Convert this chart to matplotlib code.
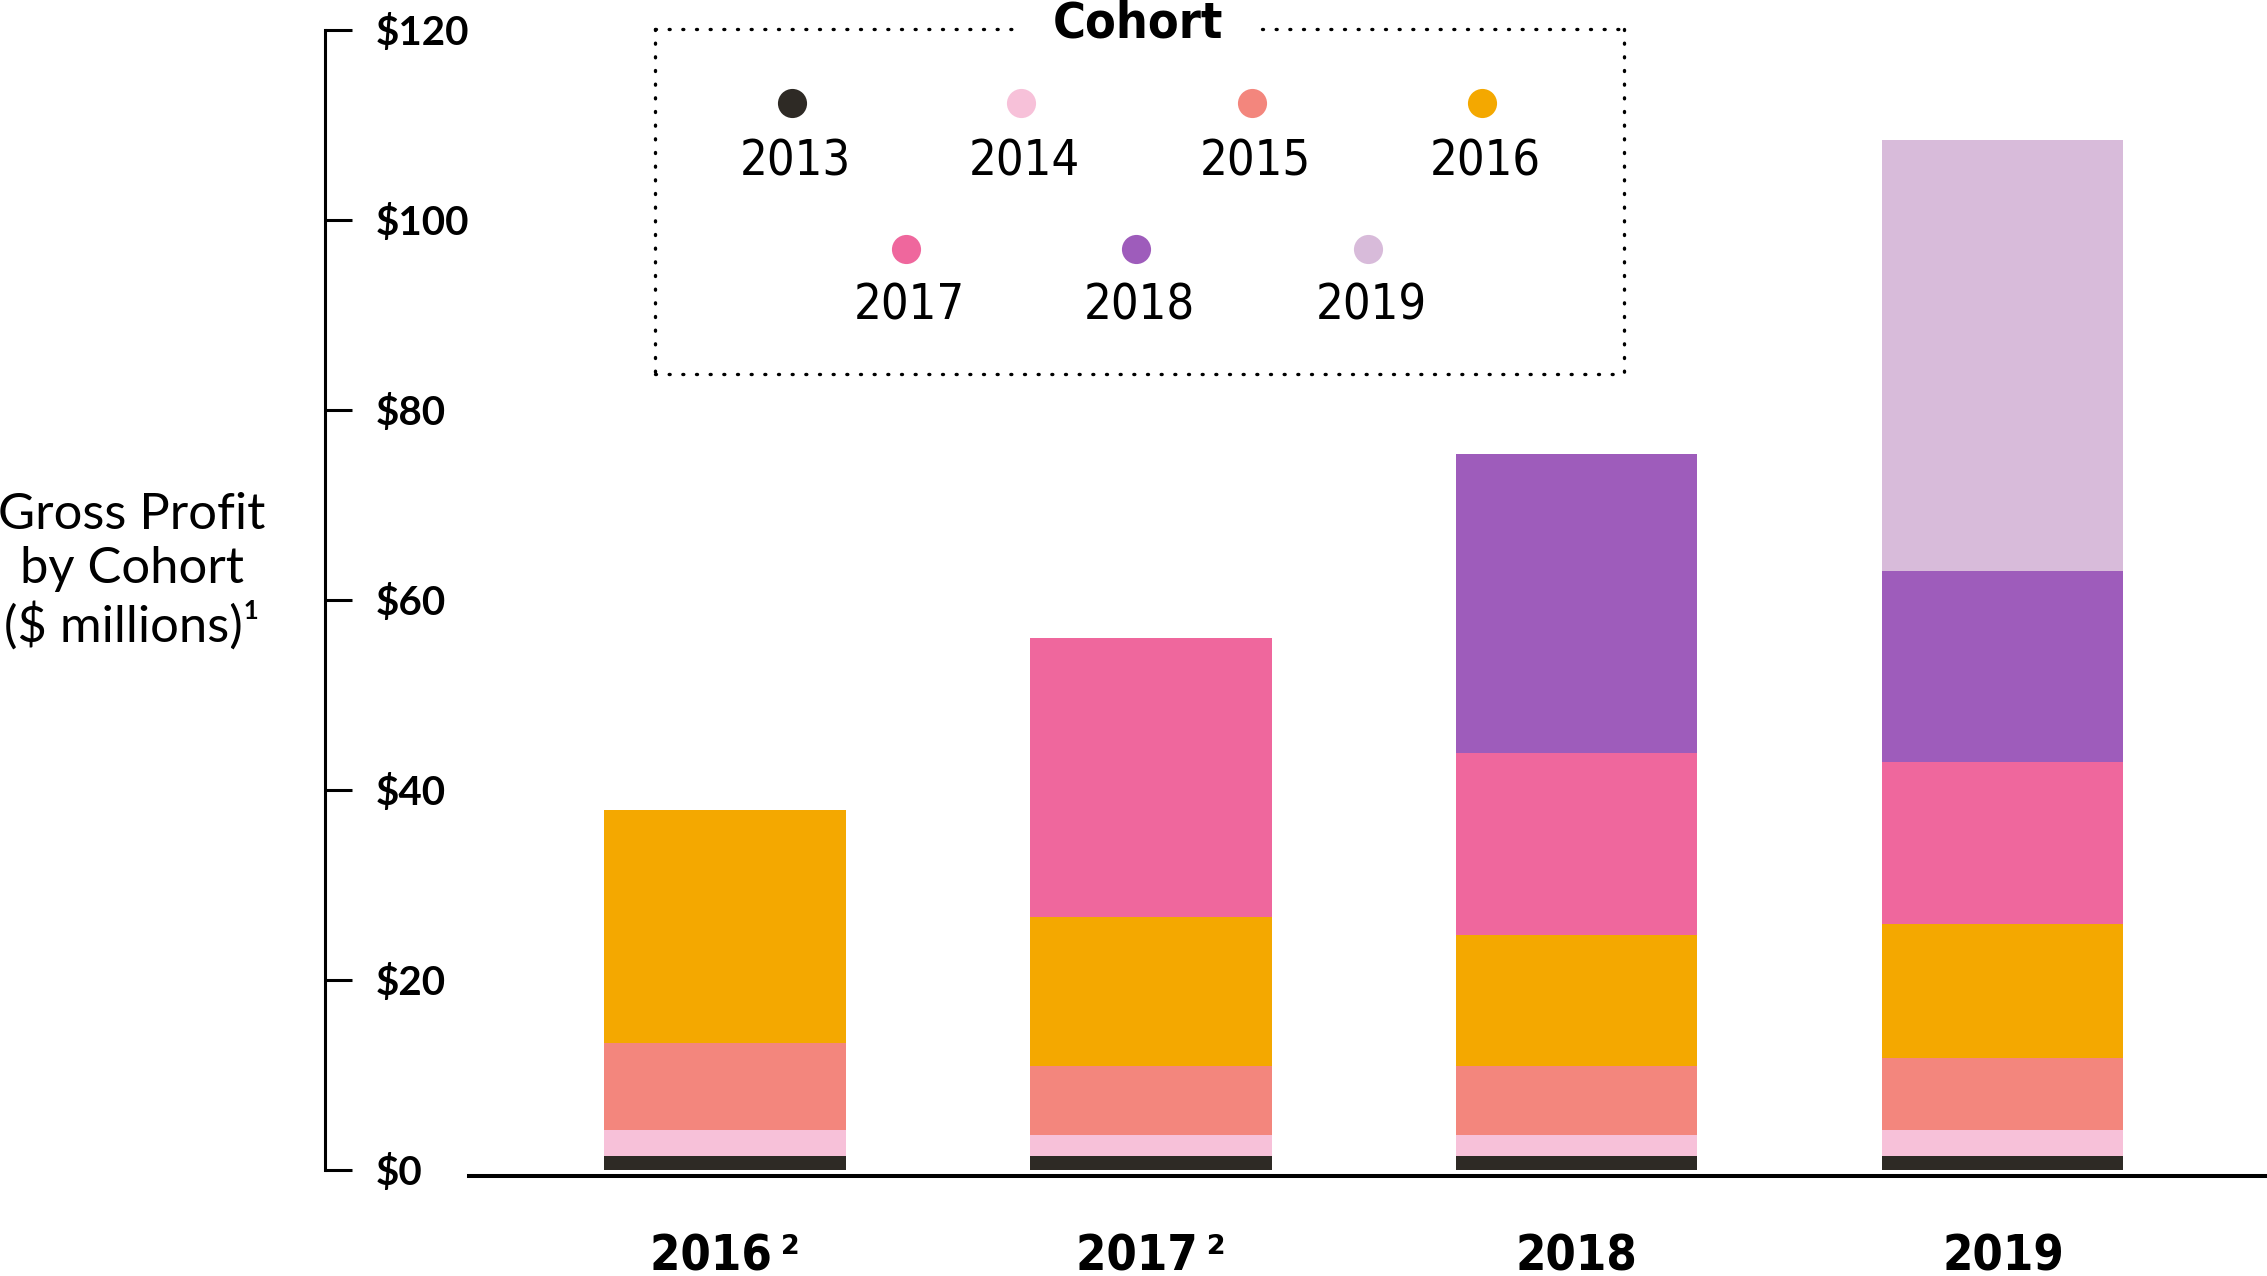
import matplotlib
matplotlib.use("Agg")
import matplotlib.pyplot as plt
import numpy as np
from matplotlib import font_manager

# fonts: condensed bold for years/cohort, plain sans for the rest
names = set(f.name for f in font_manager.fontManager.ttflist)
narrow = 'Liberation Sans Narrow' if 'Liberation Sans Narrow' in names else 'DejaVu Sans'
plain = 'Lato' if 'Lato' in names else 'DejaVu Sans'

years = ['2016', '2017', '2018', '2019']
year_notes = ['2', '2', '', '']
cohorts = ['2013', '2014', '2015', '2016', '2017', '2018', '2019']
colors = ['#2E2A25', '#F7C1D9', '#F3867D', '#F4A800', '#EF679D', '#9E5CBB', '#D8BBDA']

# gross profit ($M) per cohort, one value per year
c2013 = [1.47, 1.47, 1.47, 1.47]
c2014 = [2.77, 2.2, 2.2, 2.77]
c2015 = [9.16, 7.3, 7.3, 7.58]
c2016 = [24.54, 15.7, 13.72, 14.08]
c2017 = [0, 29.37, 19.17, 17.06]
c2018 = [0, 0, 31.51, 20.08]
c2019 = [0, 0, 0, 45.36]
series = [c2013, c2014, c2015, c2016, c2017, c2018, c2019]

W, H = 2267, 1276
fig = plt.figure(figsize=(W / 100, H / 100), dpi=100)
ax = fig.add_axes([325 / W, (H - 1170) / H, (W - 325) / W, 1140 / H])

x = np.arange(len(years))
bottom = np.zeros(len(years))
for vals, col in zip(series, colors):
    vals = np.array(vals, dtype=float)
    ax.bar(x, vals, width=0.566, bottom=bottom, color=col, linewidth=0)
    bottom += vals

ax.set_xlim(-0.939, 3.62)
ax.set_ylim(0, 120)
for s in ['top', 'right', 'bottom']:
    ax.spines[s].set_visible(False)
ax.spines['left'].set_linewidth(2.2)

ax.set_yticks(np.arange(0, 121, 20))
ax.set_yticklabels(['$%d' % v for v in range(0, 121, 20)],
                   fontsize=29, fontweight='bold', family=plain)
ax.tick_params(axis='y', direction='in', length=19.5, width=2.2, pad=-36.7)
for lbl in ax.get_yticklabels():
    lbl.set_horizontalalignment('left')

ax.set_xticks(x)
ax.set_xticklabels([y + ('\u2009' + '\u00b2' if n else '') for y, n in zip(years, year_notes)],
                   fontsize=35, fontweight='bold', fontstretch='condensed', family=[narrow, 'DejaVu Sans'])
ax.tick_params(axis='x', length=0, pad=45)

# baseline under the bars
ax.axhline(-0.63, xmin=(469 - 325) / (W - 325), xmax=1, color='black', lw=2.9, clip_on=False)

fig.text(132 / W, (H - 571) / H, 'Gross Profit\nby Cohort\n($ millions)\u00b9',
         ha='center', va='center', fontsize=36.5, family=[plain, 'DejaVu Sans'], linespacing=1.22)

# legend box drawn by hand
lg = fig.add_axes([655 / W, (H - 374) / H, 969 / W, 345 / H])
lg.set_xlim(0, 969)
lg.set_ylim(345, 0)
lg.axis('off')
dot = dict(color='black', lw=2.4, linestyle=(0, (0.3, 3.8)), dash_capstyle='round', clip_on=False)
lg.plot([0, 0], [0, 345], **dot)
lg.plot([969, 969], [0, 345], **dot)
lg.plot([0, 969], [345, 345], **dot)
lg.plot([0, 361], [0, 0], **dot)
lg.plot([607, 969], [0, 0], **dot)
lg.text(483, -6, 'Cohort', ha='center', va='center', fontsize=36, fontweight='bold',
        fontstretch='condensed', family=[narrow, 'DejaVu Sans'])

row1_x = [137, 366, 597, 827]
row2_x = [251, 481, 713]
pos = [(px, 74, 133) for px in row1_x] + [(px, 220, 277) for px in row2_x]
for (px, my, ty), name, col in zip(pos, cohorts, colors):
    lg.scatter([px], [my], s=440, color=col, linewidths=0, clip_on=False)
    lg.text(px + 3, ty, name, ha='center', va='center', fontsize=35, fontstretch='condensed',
            family=[narrow, 'DejaVu Sans'])

fig.savefig('out.png', dpi=100)
